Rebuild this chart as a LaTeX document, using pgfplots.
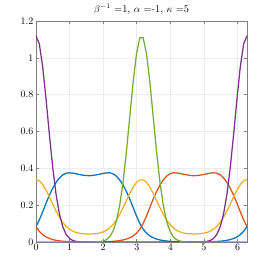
\documentclass[border=0pt]{standalone}
\usepackage{pgfplots}
\usepackage{pgfplotstable}
\pgfplotsset{compat=1.18}
\definecolor{mblue}{rgb}{0,0.447,0.741}
\definecolor{mred}{rgb}{0.85,0.325,0.098}
\definecolor{myellow}{rgb}{0.929,0.694,0.125}
\definecolor{mpurple}{rgb}{0.494,0.184,0.556}
\definecolor{mgreen}{rgb}{0.466,0.674,0.188}
\pgfplotstableread{
x b r y p g
0 0.0837 0.0837 0.3390 1.1200 0
0.0997 0.1200 0.0578 0.3320 1.0752 0
0.1995 0.1640 0.0400 0.3120 0.9514 0
0.2992 0.2104 0.0277 0.2816 0.7760 0
0.3989 0.2540 0.0191 0.2447 0.5832 0
0.4987 0.2921 0.0132 0.2055 0.4041 0
0.5984 0.3237 0.0091 0.1678 0.2580 0
0.6981 0.3480 0.0063 0.1342 0.1519 0
0.7979 0.3650 0.0044 0.1065 0.0824 0
0.8976 0.3738 0.0030 0.0850 0.0412 0
0.9973 0.3757 0.0021 0.0693 0.0190 0
1.0971 0.3738 0.0014 0.0585 0.0081 0
1.1968 0.3703 0.0010 0.0516 0.0032 0
1.2965 0.3664 0.0007 0.0474 0.0011 0
1.3963 0.3629 0.0005 0.0450 0.0004 0
1.4960 0.3606 0.0003 0.0439 0.0001 0
1.5957 0.3601 0.0003 0.0437 0 0
1.6955 0.3616 0.0004 0.0443 0 0.0002
1.7952 0.3645 0.0006 0.0459 0 0.0007
1.8949 0.3683 0.0008 0.0491 0 0.0019
1.9947 0.3722 0.0012 0.0546 0 0.0051
2.0944 0.3750 0.0017 0.0634 0 0.0125
2.1941 0.3757 0.0025 0.0764 0 0.0282
2.2939 0.3703 0.0036 0.0949 0 0.0588
2.3936 0.3575 0.0052 0.1196 0 0.1130
2.4933 0.3370 0.0076 0.1503 0 0.2000
2.5931 0.3088 0.0110 0.1863 0 0.3262
2.6928 0.2740 0.0159 0.2252 0 0.4904
2.7925 0.2330 0.0230 0.2637 0 0.6796
2.8923 0.1873 0.0333 0.2978 0 0.8680
2.9920 0.1415 0.0481 0.3235 0 1.0218
3.0917 0.1008 0.0695 0.3372 0 1.1086
3.1915 0.0695 0.1008 0.3372 0 1.1086
3.2912 0.0481 0.1415 0.3235 0 1.0218
3.3909 0.0333 0.1873 0.2978 0 0.8680
3.4907 0.0230 0.2330 0.2637 0 0.6796
3.5904 0.0159 0.2740 0.2252 0 0.4904
3.6901 0.0110 0.3088 0.1863 0 0.3262
3.7899 0.0076 0.3370 0.1503 0 0.2000
3.8896 0.0052 0.3575 0.1196 0 0.1130
3.9893 0.0036 0.3703 0.0949 0 0.0588
4.0891 0.0025 0.3757 0.0764 0 0.0282
4.1888 0.0017 0.3750 0.0634 0 0.0125
4.2885 0.0012 0.3722 0.0546 0 0.0051
4.3883 0.0008 0.3683 0.0491 0 0.0019
4.4880 0.0006 0.3645 0.0459 0 0.0007
4.5877 0.0004 0.3616 0.0443 0 0.0002
4.6875 0.0003 0.3601 0.0437 0 0
4.7872 0.0003 0.3606 0.0439 0.0001 0
4.8869 0.0005 0.3629 0.0450 0.0004 0
4.9867 0.0007 0.3664 0.0474 0.0011 0
5.0864 0.0010 0.3703 0.0516 0.0032 0
5.1861 0.0014 0.3738 0.0585 0.0081 0
5.2859 0.0021 0.3757 0.0693 0.0190 0
5.3856 0.0030 0.3738 0.0850 0.0412 0
5.4853 0.0044 0.3650 0.1065 0.0824 0
5.5851 0.0063 0.3480 0.1342 0.1519 0
5.6848 0.0091 0.3237 0.1678 0.2580 0
5.7845 0.0132 0.2921 0.2055 0.4041 0
5.8843 0.0191 0.2540 0.2447 0.5832 0
5.9840 0.0277 0.2104 0.2816 0.7760 0
6.0837 0.0400 0.1640 0.3120 0.9514 0
6.1835 0.0578 0.1200 0.3320 1.0752 0
6.2832 0.0837 0.0837 0.3390 1.1200 0
}\datatable
\begin{document}
\begin{tikzpicture}
\begin{axis}[
  scale only axis, width=211bp, height=221bp,
  xmin=0, xmax=6.2832, ymin=0, ymax=1.2,
  xtick={0,1,2,3,4,5,6}, ytick={0,0.2,0.4,0.6,0.8,1,1.2},
  grid=major, major grid style={draw=black!7, line width=0.5bp},
  axis line style={draw=black!50, line width=0.6bp},
  tick style={draw=black!50, line width=0.6bp},
  tick align=inside, major tick length=3bp,
  ticklabel style={font=\fontsize{10}{11}\selectfont},
  xticklabel style={yshift=1bp},
  yticklabel style={xshift=1bp},
  title={$\beta^{-1}$ =1, $\alpha$ =-1, $\kappa$ =5},
  title style={font=\fontsize{10.4}{12}\selectfont, yshift=-3bp},
  every axis plot/.append style={line width=1.25bp, no marks},
]
\addplot[mblue] table[x=x,y=b]{\datatable};
\addplot[mred] table[x=x,y=r]{\datatable};
\addplot[myellow] table[x=x,y=y]{\datatable};
\addplot[mpurple] table[x=x,y=p]{\datatable};
\addplot[mgreen] table[x=x,y=g]{\datatable};
\end{axis}
\pgfresetboundingbox
\path[use as bounding box] ([xshift=-36bp,yshift=-31bp]current axis.south west) rectangle ([xshift=27bp,yshift=21bp]current axis.north east);
\end{tikzpicture}
\end{document}
